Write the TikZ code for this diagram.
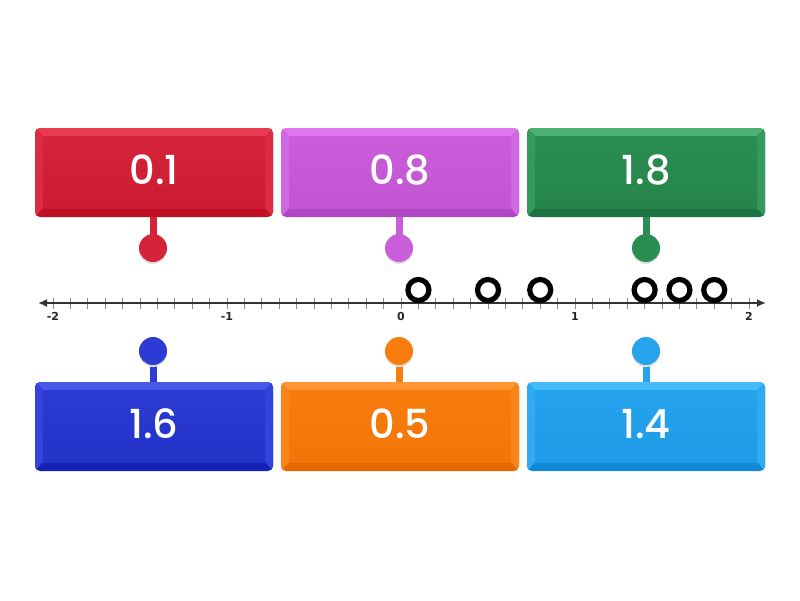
\documentclass[tikz,border=0pt]{standalone}
\usepackage{fontspec}
\setmainfont{Poppins}
\newfontfamily\numfont{Poppins Medium}
\newfontfamily\tickfont{DejaVu Sans}
\usetikzlibrary{arrows.meta}

% colour sets: L = top bevel, S = side bevel, M = face top, B = face bottom, D = bottom bevel
\definecolor{redL}{HTML}{E83C52}\definecolor{redS}{HTML}{DB2C42}\definecolor{redM}{HTML}{D52439}\definecolor{redB}{HTML}{CC1C33}\definecolor{redD}{HTML}{BF0F27}
\definecolor{purL}{HTML}{DF77F1}\definecolor{purS}{HTML}{D068E1}\definecolor{purM}{HTML}{CA5DDA}\definecolor{purB}{HTML}{C255D2}\definecolor{purD}{HTML}{B047C2}
\definecolor{grnL}{HTML}{4DAF72}\definecolor{grnS}{HTML}{349A5C}\definecolor{grnM}{HTML}{2A8D52}\definecolor{grnB}{HTML}{26854A}\definecolor{grnD}{HTML}{1D733F}
\definecolor{bluL}{HTML}{4858E8}\definecolor{bluS}{HTML}{3444DB}\definecolor{bluM}{HTML}{2B3BD3}\definecolor{bluB}{HTML}{2333C8}\definecolor{bluD}{HTML}{1522B6}
\definecolor{ornL}{HTML}{FF9632}\definecolor{ornS}{HTML}{FA861A}\definecolor{ornM}{HTML}{F87D0D}\definecolor{ornB}{HTML}{F37508}\definecolor{ornD}{HTML}{E46700}
\definecolor{lbuL}{HTML}{46BBFB}\definecolor{lbuS}{HTML}{2EABF1}\definecolor{lbuM}{HTML}{25A3ED}\definecolor{lbuB}{HTML}{1E9BE7}\definecolor{lbuD}{HTML}{1188D7}
\definecolor{axisgray}{HTML}{333333}
\definecolor{tickgray}{HTML}{8A8A8A}

\tikzset{
  boxframe/.style={minimum width=238pt, minimum height=89pt, inner sep=0pt, draw=none},
  numlabel/.style={text=white, font=\numfont\fontsize{40}{40}\selectfont, inner sep=0pt},
  pindot/.style={circle, minimum size=28pt, inner sep=0pt, draw=none},
  pinshadow/.style={circle, minimum size=28pt, inner sep=0pt, fill=black!12, draw=none},
  stem/.style={line width=7pt},
  axisline/.style={line width=2pt, draw=axisgray, {Latex[length=9pt,width=8pt]}-{Latex[length=9pt,width=8pt]}},
  tickmark/.style={line width=0.9pt, draw=tickgray},
  ticklabel/.style={font=\tickfont\bfseries\fontsize{11}{11}\selectfont, text=black!85, inner sep=0pt},
  ringmark/.style={circle, minimum size=21pt, inner sep=0pt, draw=black, line width=5.2pt, fill=white},
}

\newcommand\numbox[5]{%
  \begin{scope}[shift={(#2,#3)}]
    \fill[#4D, rounded corners=5pt] (0,0) rectangle (238,89);
    \begin{scope}
      \clip[rounded corners=5pt] (0,0) rectangle (238,89);
      \fill[#4L] (0,0) -- (238,0) -- (230,8) -- (8,8) -- cycle;
      \fill[#4S] (0,0) -- (8,8) -- (8,80) -- (0,89) -- cycle;
      \fill[#4S] (238,0) -- (230,8) -- (230,80) -- (238,89) -- cycle;
    \end{scope}
    \shade[top color=#4M, bottom color=#4B] (8,8) rectangle (230,80);
    \node[boxframe] (#1) at (119,44.5) {};
    \node[numlabel] (#1-t) at (119,42) {#5};
  \end{scope}%
}

\begin{document}
\begin{tikzpicture}[x=1pt,y=-1pt]
\useasboundingbox (0,0) rectangle (800,600);

% number line
\coordinate (axL) at (38,303);
\coordinate (axR) at (766,303);
\foreach \i in {-20,...,20}{
  \draw[tickmark] ({401+17.4*\i},297.5) -- ({401+17.4*\i},308.5);
}
\draw[axisline] (axL) -- (axR);
\foreach \v/\t in {-2/-2,-1/-1,0/0,1/1,2/2}{
  \node[ticklabel] (lab\v) at ({401+174*\v},316) {\t};
}

% rings on the line
\foreach \v/\n in {0.1/a,0.5/b,0.8/c,1.4/d,1.6/e,1.8/f}{
  \node[ringmark] (ring\n) at ({401+174*\v},290) {};
}

% top boxes
\numbox{boxA}{35}{128}{red}{0.1}
\numbox{boxB}{281}{128}{pur}{0.8}
\numbox{boxC}{527}{128}{grn}{1.8}
% bottom boxes
\numbox{boxD}{35}{382}{blu}{1.6}
\numbox{boxE}{281}{382}{orn}{0.5}
\numbox{boxF}{527}{382}{lbu}{1.4}

% pins
\foreach \b/\x/\y in {A/153/248, B/399/248, C/646/248, D/153/351, E/399/351, F/646/351}{
  \coordinate (pin\b) at (\x,\y);
}
\foreach \b/\c in {A/red,B/pur,C/grn}{
  \draw[stem, draw=\c M] (pin\b) -- (pin\b |- box\b.south);
}
\foreach \b/\c in {D/blu,E/orn,F/lbu}{
  \draw[stem, draw=\c M] (pin\b) -- (pin\b |- box\b.north);
}
\foreach \b/\c in {A/red,B/pur,C/grn,D/blu,E/orn,F/lbu}{
  \node[pinshadow] (sh\b) at ([yshift=-2pt]pin\b) {};
  \node[pindot, fill=\c M] (dot\b) at (pin\b) {};
}
\end{tikzpicture}
\end{document}
